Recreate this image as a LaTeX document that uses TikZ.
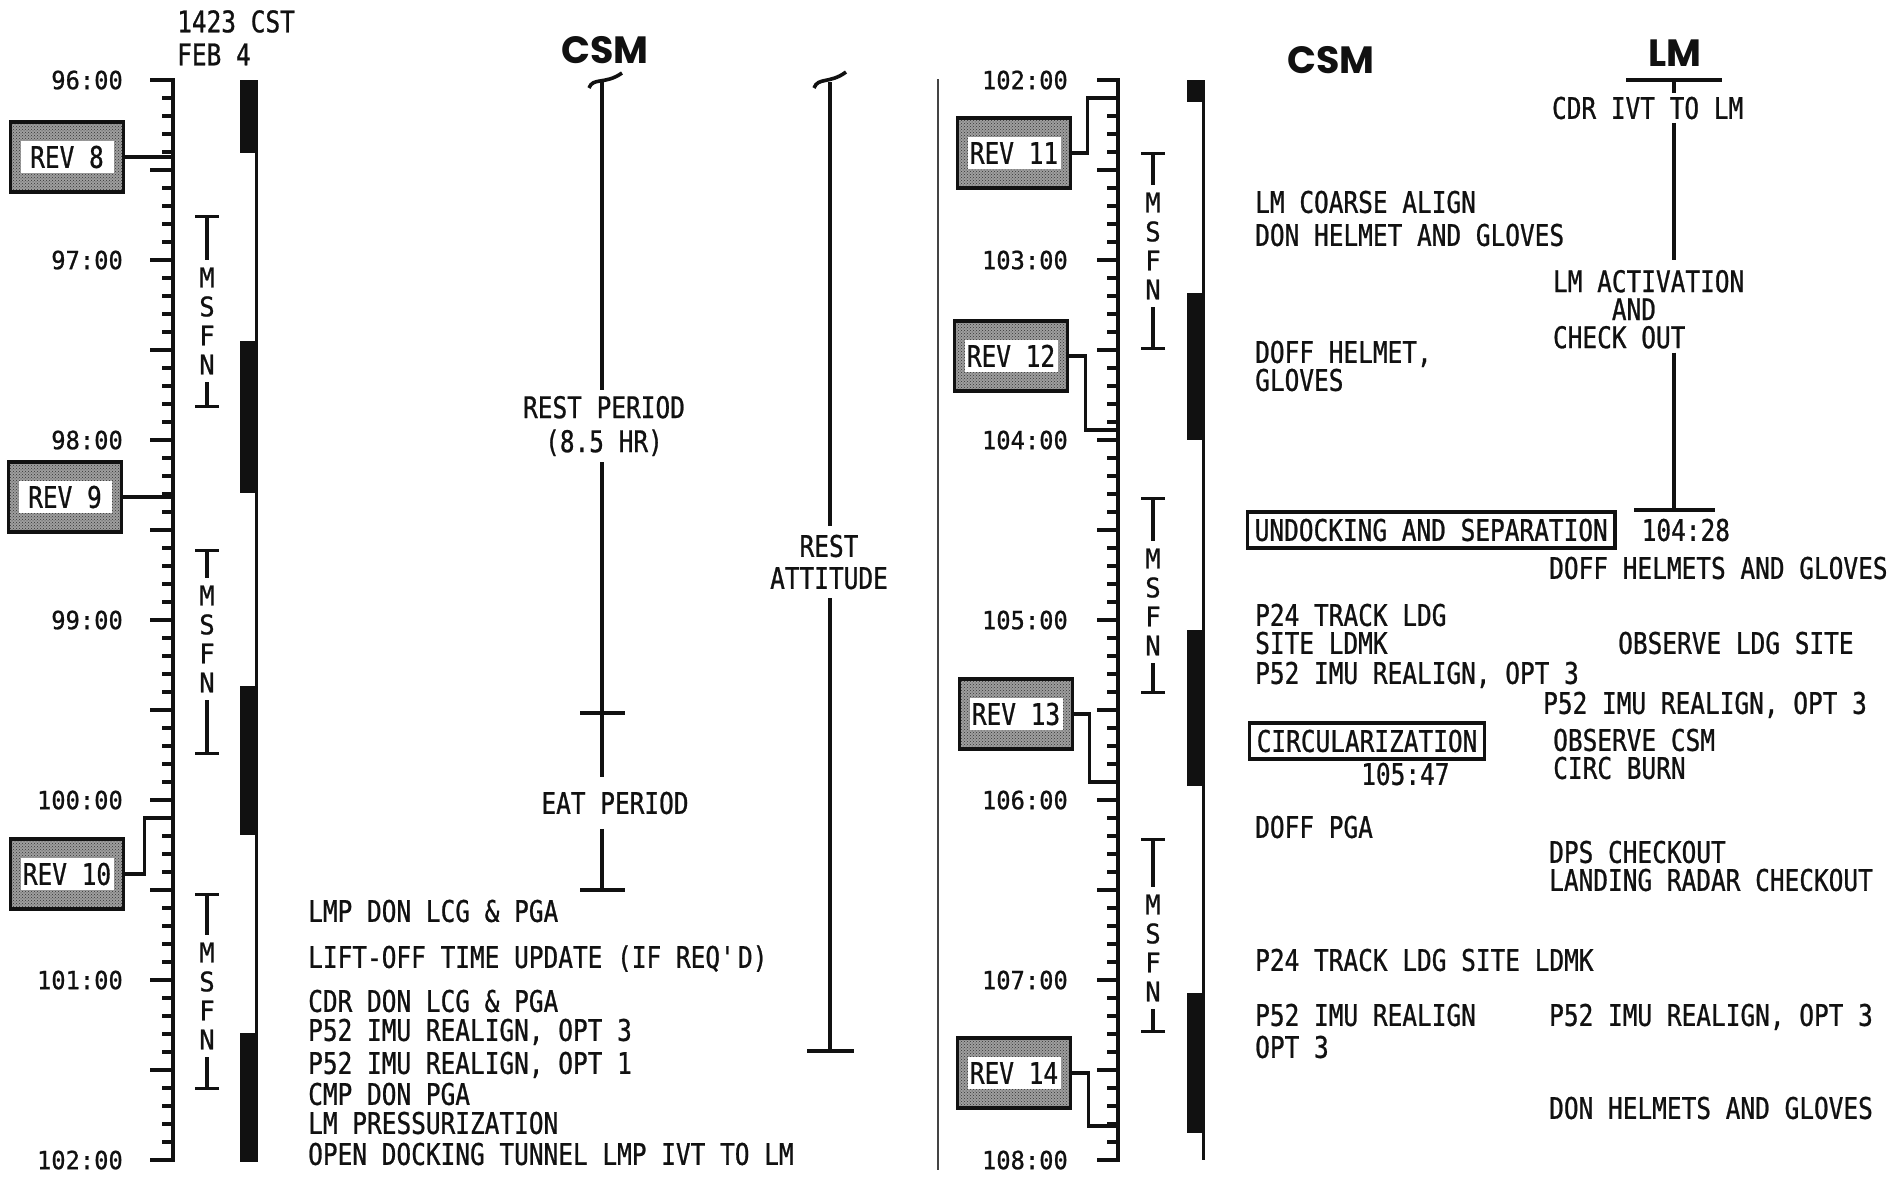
\documentclass[tikz,border=0pt]{standalone}
\usepackage{fontspec}
\usepackage{xcolor}
\usepackage{tikz}
\usetikzlibrary{arrows.meta,positioning,calc,patterns}
\newfontfamily\chartfont{DejaVu Sans Mono}[FakeStretch=0.82, FakeBold=0.8]
\newfontfamily\hourfont{DejaVu Sans Mono}[FakeStretch=0.95, FakeBold=0.8]
\newfontfamily\titlefont{Poppins}
\definecolor{ink}{HTML}{111111}
\definecolor{stipple}{HTML}{333333}
\definecolor{rulegray}{HTML}{444444}
\tikzset{
  evtext/.style={font=\chartfont\fontsize{29.8pt}{33pt}\selectfont, text=ink,
    anchor=west, inner sep=0pt, text height=21.7pt, text depth=0pt},
  evstack/.style={font=\chartfont\fontsize{29.8pt}{#1}\selectfont, text=ink,
    inner sep=0pt, align=center},
  evstack/.default=33pt,
  hourlabel/.style={font=\hourfont\fontsize{25pt}{30pt}\selectfont, text=ink,
    anchor=east, inner sep=0pt, text height=18.3pt, text depth=0pt},
  titletext/.style={font=\titlefont\bfseries\fontsize{38pt}{40pt}\selectfont,
    text=ink, inner sep=0pt},
  axisline/.style={draw=ink, line width=4pt, line join=miter},
  tickmark/.style={draw=ink, line width=3.5pt},
  spanline/.style={draw=ink, line width=3.6pt},
  revlink/.style={draw=ink, line width=3.4pt},
  divider/.style={draw=rulegray, line width=2.2pt},
  revbox/.style={draw=ink, line width=3.6pt, minimum width=113pt,
    minimum height=70pt, inner sep=0pt,
    preaction={fill=black!38}, pattern=crosshatch dots, pattern color=stipple,
    path picture={\fill[white] ([shift={(10pt,-19pt)}]path picture bounding box.north west)
      rectangle ([shift={(-10pt,19pt)}]path picture bounding box.south east);},
    font=\chartfont\fontsize{29.8pt}{33pt}\selectfont, text=ink,
    text height=21.7pt, text depth=0pt},
  eventbox/.style={draw=ink, line width=3.4pt, anchor=west,
    inner xsep=7pt, inner ysep=0pt, minimum height=36pt,
    font=\chartfont\fontsize{29.8pt}{33pt}\selectfont, text=ink,
    text height=21.7pt, text depth=0pt},
  msfn/.style={font=\hourfont\fontsize{27pt}{29pt}\selectfont, text=ink,
    align=center, inner sep=0pt, outer sep=8pt},
  msfnline/.style={draw=ink, line width=3.4pt},
}

\begin{document}
\begin{tikzpicture}[x=1pt, y=-1pt]
\path[use as bounding box, fill=white] (0,0) rectangle (1895,1178);

% Left timeline 96:00 - 102:00
\node[evstack, anchor=north west, align=left] (epoch) at (177,10) {1423 CST\\FEB 4};
\draw[axisline] (150,80) -- (173,80) -- (173,1160) -- (150,1160);
\foreach \k in {0,...,60} \draw[tickmark] (162,{80+18*\k}) -- (173,{80+18*\k});
\foreach \k in {0,...,12} \draw[tickmark] (150,{80+90*\k}) -- (173,{80+90*\k});
\foreach \h [count=\i from 0] in {96,...,102}
  \node[hourlabel] (hl\h) at (123,{80+180*\i}) {\h:00};

\node[revbox] (rev8) at (67,157) {REV 8};
\node[revbox] (rev9) at (65,497) {REV 9};
\node[revbox] (rev10) at (67,874) {REV 10};
\coordinate (ax8) at (173,157);
\coordinate (ax9) at (173,494);
\coordinate (ax10) at (173,818);
\draw[revlink] (rev8.east) -- (rev8.east -| ax8);
\draw[revlink] (rev9.east) -- (rev9.east -| ax9);
\draw[revlink] (rev10.east) -- ++(19,0) |- (ax10);

% MSFN coverage and darkness bars
\foreach \n/\x/\t/\c/\b in {1/207/215/321/408, 2/207/549/639/755, 3/207/893/996/1090,
    4/1153/152/246/350, 5/1153/497/602/694, 6/1153/838/948/1033} {
  \node[msfn] (msfn\n) at (\x,\c) {M\\S\\F\\N};
  \draw[msfnline, {Bar[width=24pt]}-] (\x,\t) -- (msfn\n.north);
  \draw[msfnline, -{Bar[width=24pt]}] (msfn\n.south) -- (\x,\b);
}
\draw[ink, line width=3pt] (256,80) -- (256,1160);
\foreach \a/\b in {80/153, 341/493, 686/835, 1033/1162}
  \fill[ink] (240,\a) rectangle (258,\b);

% CSM, left page
\node[titletext] (csmL) at (605,50) {CSM};
\coordinate (restTop) at (602,82);
\draw[spanline] (589,88) .. controls (593,77) and (605,85) .. (622,73);
\node[evstack=34pt, outer sep=6pt] (restp) at (604,426) {REST PERIOD\\(8.5 HR)};
\node[evtext, anchor=center, outer sep=15pt] (eat) at (615,803) {EAT PERIOD};
\coordinate (eatMark) at (602,713);
\coordinate (eatEnd) at (602,892);
\draw[spanline] (restTop) -- (restTop |- restp.north);
\draw[spanline] (restTop |- restp.south) -- (restTop |- eat.north);
\draw[spanline] ($(eatMark)+(-22,0)$) -- ($(eatMark)+(23,0)$);
\draw[spanline, -{Bar[width=45pt]}] (restTop |- eat.south) -- (eatEnd);

\coordinate (attTop) at (830,82);
\draw[spanline] (814,88) .. controls (818,77) and (830,84) .. (846,72);
\node[evstack=32pt, outer sep=9pt] (attitude) at (829,562) {REST\\ATTITUDE};
\coordinate (attEnd) at (830,1053);
\draw[spanline] (attTop) -- (attTop |- attitude.north);
\draw[spanline, -{Bar[width=47pt]}] (attTop |- attitude.south) -- (attEnd);

\node[evtext] (lmpdon) at (308,911) {LMP DON LCG \& PGA};
\node[evtext] (liftoff) at (308,957) {LIFT-OFF TIME UPDATE (IF REQ\textquotesingle D)};
\node[evtext] (cdrdon) at (308,1001) {CDR DON LCG \& PGA};
\node[evtext] (realignA) at (308,1030) {P52 IMU REALIGN, OPT 3};
\node[evtext] (realignB) at (308,1063) {P52 IMU REALIGN, OPT 1};
\node[evtext] (cmpdon) at (308,1094) {CMP DON PGA};
\node[evtext] (press) at (308,1123) {LM PRESSURIZATION};
\node[evtext] (tunnel) at (308,1154) {OPEN DOCKING TUNNEL LMP IVT TO LM};

% Page divider
\draw[divider] (938,79) -- (938,1170);

% Right timeline 102:00 - 108:00
\draw[axisline] (1097,80) -- (1118,80) -- (1118,1160) -- (1097,1160);
\foreach \k in {0,...,60} \draw[tickmark] (1107,{80+18*\k}) -- (1118,{80+18*\k});
\foreach \k in {0,...,12} \draw[tickmark] (1097,{80+90*\k}) -- (1118,{80+90*\k});
\foreach \h [count=\i from 0] in {102,...,108}
  \node[hourlabel] (hr\h) at (1068,{80+180*\i}) {\h:00};

\node[revbox] (rev11) at (1014,153) {REV 11};
\node[revbox] (rev12) at (1011,356) {REV 12};
\node[revbox] (rev13) at (1016,714) {REV 13};
\node[revbox] (rev14) at (1014,1073) {REV 14};
\coordinate (ax11) at (1118,98);
\coordinate (ax12) at (1118,430);
\coordinate (ax13) at (1118,782);
\coordinate (ax14) at (1118,1126);
\draw[revlink] (rev11.east) -- ++(15,0) |- (ax11);
\draw[revlink] (rev12.east) -- ++(16,0) |- (ax12);
\draw[revlink] (rev13.east) -- ++(15,0) |- (ax13);
\draw[revlink] (rev14.east) -- ++(16,0) |- (ax14);

\draw[ink, line width=3pt] (1203,80) -- (1203,1160);
\foreach \a/\b in {80/102, 293/440, 630/786, 993/1133}
  \fill[ink] (1187,\a) rectangle (1205,\b);

% CSM, right page
\node[titletext] (csmR) at (1331,60) {CSM};
\node[evtext] (coarse) at (1255,202) {LM COARSE ALIGN};
\node[evtext] (donhelmet) at (1255,235) {DON HELMET AND GLOVES};
\node[evtext] (doffhelmet) at (1255,352) {DOFF HELMET,};
\node[evtext] (doffgloves) at (1255,380) {GLOVES};
\node[eventbox] (undock) at (1246,530) {UNDOCKING AND SEPARATION};
\node[evtext, right=25pt of undock] (tundock) {104:28};
\node[evtext] (trackA) at (1255,615) {P24 TRACK LDG};
\node[evtext] (siteA) at (1255,643) {SITE LDMK};
\node[evtext] (realignC) at (1255,673) {P52 IMU REALIGN, OPT 3};
\node[eventbox] (circ) at (1248,741) {CIRCULARIZATION};
\node[evtext] (tcirc) at (1361,774) {105:47};
\node[evtext] (doffpga) at (1255,827) {DOFF PGA};
\node[evtext] (trackB) at (1255,960) {P24 TRACK LDG SITE LDMK};
\node[evtext] (realignD) at (1255,1015) {P52 IMU REALIGN};
\node[evtext] (optD) at (1255,1047) {OPT 3};

% LM
\node[titletext] (lmtitle) at (1675,53) {LM};
\coordinate (lmRule) at (1674,78);
\coordinate (lmEnd) at (1674,512);
\node[evtext, outer sep=4pt] (cdrivt) at (1548,108) {CDR IVT TO LM};
\node[evstack=28pt, anchor=north west, align=left, outer sep=4pt] (activation) at (1549,266)
  {LM ACTIVATION\\\phantom{LMAC}AND\\CHECK OUT};
\draw[spanline, {Bar[width=96pt]}-] (lmRule) -- (cdrivt.north -| lmRule);
\draw[spanline] (cdrivt.south -| lmRule) -- ([yshift=6pt]activation.north -| lmRule);
\draw[spanline, -{Bar[width=81pt]}] (activation.south -| lmRule) -- (lmEnd);
\node[evtext] (doffall) at (1549,568) {DOFF HELMETS AND GLOVES};
\node[evtext] (observeA) at (1618,643) {OBSERVE LDG SITE};
\node[evtext] (realignE) at (1543,703) {P52 IMU REALIGN, OPT 3};
\node[evtext] (observeB) at (1553,740) {OBSERVE CSM};
\node[evtext] (burn) at (1553,768) {CIRC BURN};
\node[evtext] (dps) at (1549,852) {DPS CHECKOUT};
\node[evtext] (radar) at (1549,880) {LANDING RADAR CHECKOUT};
\node[evtext] (realignF) at (1549,1015) {P52 IMU REALIGN, OPT 3};
\node[evtext] (donall) at (1549,1108) {DON HELMETS AND GLOVES};
\end{tikzpicture}
\end{document}
